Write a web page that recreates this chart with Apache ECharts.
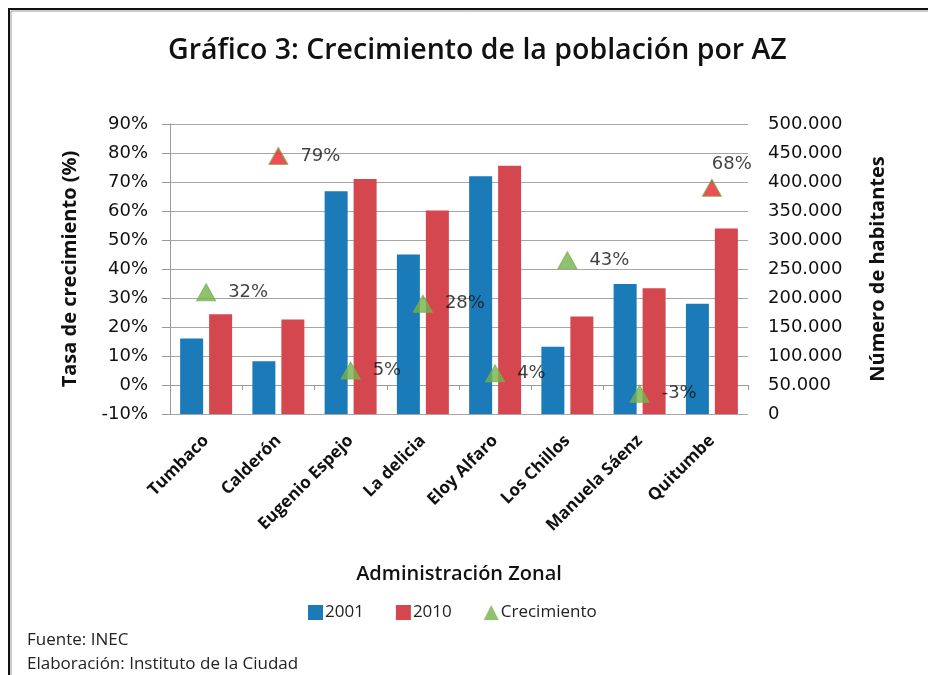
<!DOCTYPE html>
<html lang="es">
<head>
<meta charset="UTF-8">
<title>Crecimiento de la población por AZ</title>
<script src="https://cdn.jsdelivr.net/npm/echarts@6.0.0/dist/echarts.min.js"></script>
</head>
<body style="margin:0;background:#fff">
<div id="chart" style="width:928px;height:675px"></div>
<script>
// Administraciones zonales
var categorias = ['Tumbaco', 'Calderón', 'Eugenio Espejo', 'La delicia', 'Eloy Alfaro', 'Los Chillos', 'Manuela Sáenz', 'Quitumbe'];
// habitantes (eje derecho)
var poblacion2001 = [130000, 91000, 384000, 275000, 410000, 116000, 224000, 190000];
var poblacion2010 = [172000, 163000, 405000, 351000, 428000, 168000, 217000, 320000];
// tasa de crecimiento en % (eje izquierdo)
var crecimiento = [32, 79, 5, 28, 4, 43, -3, 68];
var destacados = ['Calderón', 'Quitumbe'];

var numFont = 'DejaVu Sans';
var txtFont = 'Open Sans';
var verde = '#76B24A';

var chart = echarts.init(document.getElementById('chart'));

var option = {
    backgroundColor: '#fff',
    animation: false,
    title: {
        text: 'Gráfico 3: Crecimiento de la población por AZ',
        left: 163,
        top: 31,
        textStyle: {fontFamily: txtFont, fontSize: 28.5, fontWeight: 600, color: '#111'}
    },
    legend: {
        left: 303,
        top: 599,
        itemWidth: 15,
        itemHeight: 15,
        itemGap: 32,
        textStyle: {fontFamily: txtFont, fontSize: 17, color: '#222', padding: [0, 0, 0, -3]},
        data: [
            {name: '2001', icon: 'rect'},
            {name: '2010', icon: 'rect'},
            {name: 'Crecimiento', icon: 'triangle', itemStyle: {color: verde, borderWidth: 0}}
        ]
    },
    grid: {left: 170, right: 180, top: 124, bottom: 261},
    xAxis: {
        type: 'category',
        data: categorias,
        name: 'Administración Zonal',
        nameLocation: 'middle',
        nameGap: 150,
        nameTextStyle: {fontFamily: txtFont, fontSize: 20, fontWeight: 600, color: '#111'},
        axisLine: {lineStyle: {color: '#9a9a9a'}},
        axisTick: {show: true, length: 5, lineStyle: {color: '#9a9a9a'}},
        axisLabel: {
            rotate: 45,
            margin: 24,
            fontFamily: txtFont,
            fontSize: 17,
            fontWeight: 'bold',
            color: '#111'
        }
    },
    yAxis: [
        {
            type: 'value',
            min: -10,
            max: 90,
            interval: 10,
            name: 'Tasa de crecimiento (%)',
            nameLocation: 'middle',
            nameRotate: 90,
            nameGap: 90,
            nameTextStyle: {fontFamily: txtFont, fontSize: 20, fontWeight: 'bold', color: '#111'},
            axisLine: {show: true, lineStyle: {color: '#9a9a9a'}},
            axisTick: {show: true, length: 8, lineStyle: {color: '#9a9a9a'}},
            axisLabel: {
                margin: 22,
                fontFamily: numFont,
                fontSize: 18,
                color: '#111',
                formatter: function (v) { return v + '%'; }
            },
            splitLine: {lineStyle: {color: '#a6a6a6'}}
        },
        {
            type: 'value',
            min: 0,
            max: 500000,
            interval: 50000,
            position: 'right',
            name: 'Número de habitantes',
            nameLocation: 'middle',
            nameRotate: 90,
            nameGap: 120,
            nameTextStyle: {fontFamily: txtFont, fontSize: 20, fontWeight: 'bold', color: '#111'},
            axisLine: {show: false},
            axisTick: {show: false},
            splitLine: {show: false},
            axisLabel: {
                margin: 20,
                fontFamily: numFont,
                fontSize: 18,
                color: '#111',
                formatter: function (v) {
                    return v === 0 ? '0' : (v / 1000) + '.000';
                }
            }
        }
    ],
    series: [
        {
            name: '2001',
            type: 'bar',
            yAxisIndex: 1,
            data: poblacion2001,
            barWidth: 23,
            barGap: '26%',
            itemStyle: {color: '#1A7BB8'}
        },
        {
            name: '2010',
            type: 'bar',
            yAxisIndex: 1,
            data: poblacion2010,
            barWidth: 23,
            itemStyle: {color: '#D5474F'}
        },
        {
            name: 'Crecimiento',
            type: 'scatter',
            yAxisIndex: 0,
            symbol: 'triangle',
            symbolSize: [19, 17],
            z: 5,
            data: crecimiento.map(function (v, i) {
                if (categorias[i] === 'Quitumbe') {
                    return {value: v, label: {position: 'top', offset: [20, 7]}};
                }
                return v;
            }),
            itemStyle: {
                color: function (p) {
                    return destacados.indexOf(categorias[p.dataIndex]) >= 0 ? '#E8232B' : verde;
                },
                borderColor: verde,
                borderWidth: 1
            },
            label: {
                show: true,
                position: 'right',
                distance: 12,
                fontFamily: numFont,
                fontSize: 18,
                color: '#111',
                formatter: function (p) { return p.value + '%'; }
            }
        }
    ],
    graphic: [
        {
            type: 'polyline',
            shape: {points: [[9, 675], [9, 9], [928, 9]]},
            style: {stroke: '#111', lineWidth: 2, fill: null}
        },
        {
            type: 'polyline',
            shape: {points: [[11, 675], [11, 11], [928, 11]]},
            style: {stroke: '#999', lineWidth: 1, fill: null}
        },
        {
            type: 'text',
            left: 27,
            top: 632,
            style: {text: 'Fuente: INEC', font: '17px "Open Sans"', fill: '#222'}
        },
        {
            type: 'text',
            left: 27,
            top: 656,
            style: {text: 'Elaboración: Instituto de la Ciudad', font: '17px "Open Sans"', fill: '#222'}
        }
    ]
};

chart.setOption(option);
</script>
</body>
</html>
